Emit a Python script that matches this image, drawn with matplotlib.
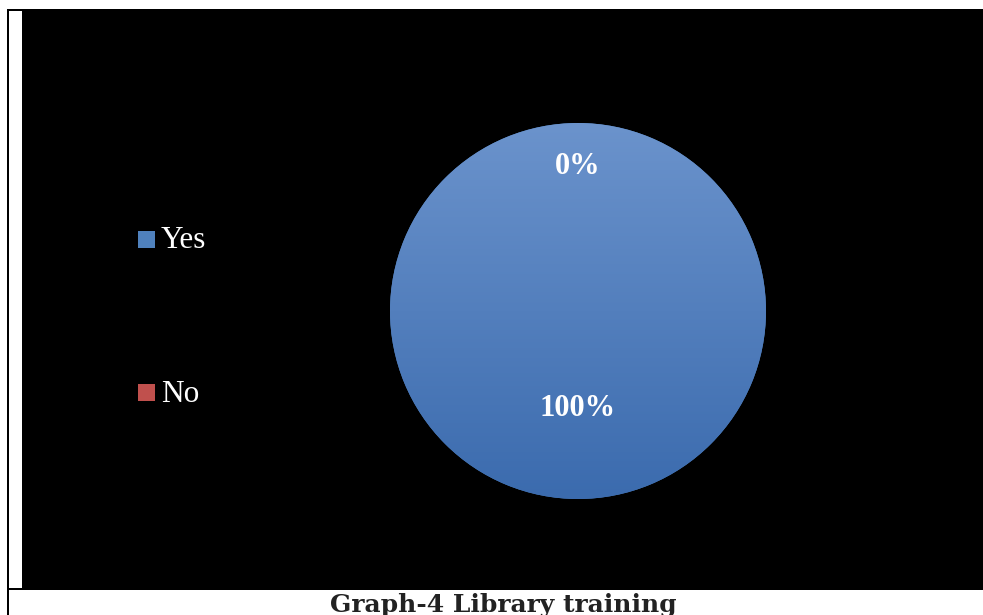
import numpy as np
import matplotlib.pyplot as plt
from matplotlib.patches import Rectangle
from matplotlib import colors

# data
categories = ["Yes", "No"]
values = [100, 0]
slice_colors = ["#4f81bd", "#c0504d"]
title = "Graph-4 Library training"

W, H = 983, 615
fig = plt.figure(figsize=(W / 100, H / 100), dpi=100)
fig.patch.set_facecolor("white")

# background axes in pixel coordinates
bg = fig.add_axes([0, 0, 1, 1])
bg.set_xlim(0, W)
bg.set_ylim(H, 0)
bg.axis("off")
bg.add_patch(Rectangle((7, 9), W - 7, 2, color="black", lw=0))
bg.add_patch(Rectangle((7, 9), 2.2, H - 9, color="black", lw=0))
bg.add_patch(Rectangle((22, 9), W - 22, 581, color="black", lw=0))
bg.add_patch(Rectangle((7, 588), W - 7, 2.2, color="black", lw=0))

# legend
leg_y = [240, 393]
for name, c, y in zip(categories, slice_colors, leg_y):
    bg.add_patch(Rectangle((138, y - 9), 17, 17, color=c, lw=0))
    bg.text(161, y + 1, name, color="white", fontsize=22.5, family="Liberation Serif",
            va="center", ha="left")

# pie
cx, cy, r = 578, 311, 188
ax = fig.add_axes([(cx - r) / W, (H - cy - r) / H, 2 * r / W, 2 * r / H])
wedges, _ = ax.pie(values, colors=slice_colors, startangle=90, counterclock=False,
                   radius=1, wedgeprops=dict(lw=0))
ax.set_xlim(-1, 1)
ax.set_ylim(-1, 1)
ax.set_aspect("auto")
ax.axis("off")

# vertical gradient on the big slice
light = np.array(colors.to_rgb("#6b93cc"))
dark = np.array(colors.to_rgb("#3b6bae"))
t = np.linspace(0, 1, 256)[:, None]
grad = light[None, :] * (1 - t) + dark[None, :] * t
img = ax.imshow(grad[:, None, :].repeat(2, axis=1), extent=(-1, 1, -1, 1),
                aspect="auto", origin="upper", zorder=2)
img.set_clip_path(wedges[0])

# percentage labels
total = sum(values)
label_pos = [(0, -0.52), (0, 0.77)]
for v, (lx, ly) in zip(values, label_pos):
    ax.text(lx, ly, f"{v / total * 100:.0f}%", color="white", fontsize=22,
            fontweight="bold", family="Liberation Serif", ha="center", va="center",
            zorder=3)

bg.text(503, 612, title, fontsize=18, fontweight="bold", family="DejaVu Serif",
        color="#222222", ha="center", va="baseline")

fig.savefig("out.png", dpi=100)
